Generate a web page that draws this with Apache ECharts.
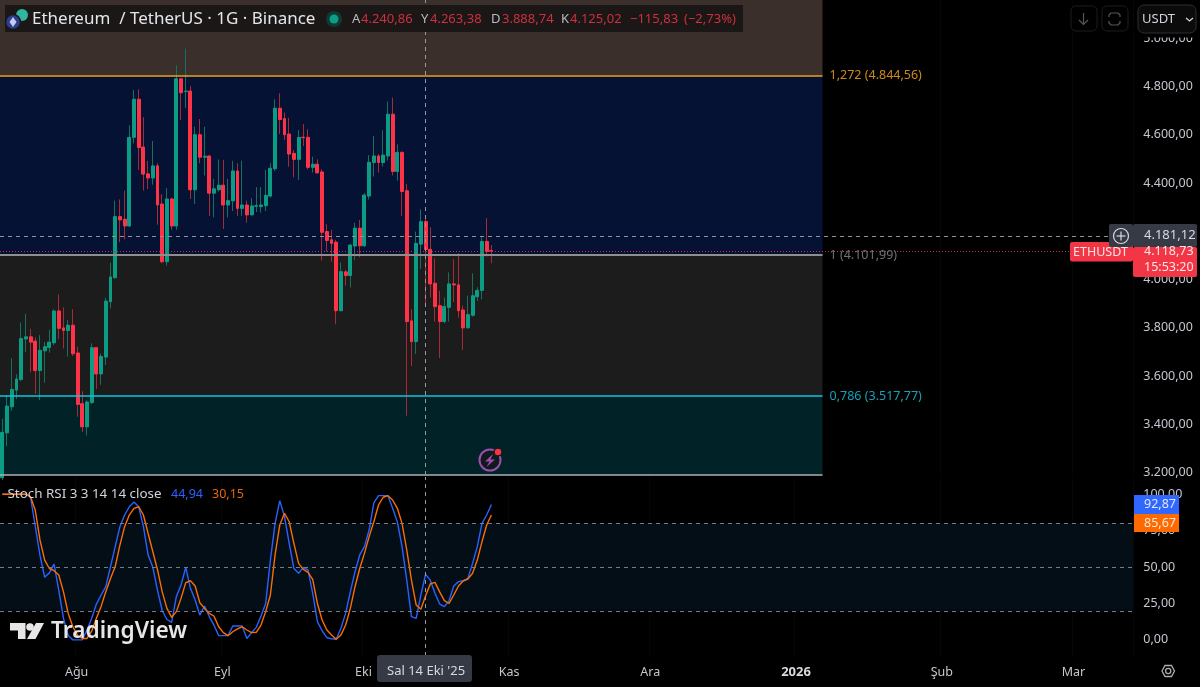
<!DOCTYPE html>
<html><head><meta charset="utf-8">
<style>html,body{margin:0;padding:0;background:#000}#c{width:1200px;height:687px}</style>
<script src="https://cdn.jsdelivr.net/npm/echarts@6/dist/echarts.min.js"></script>
</head><body><div id="c"></div>
<script>
const FONT = '"Noto Sans",sans-serif';
const startDate = '2025-07-16';
const categoryCount = 241;
const monthTicks = {'2025-08-01':'Ağu','2025-09-01':'Eyl','2025-10-01':'Eki','2025-11-01':'Kas','2025-12-01':'Ara','2026-01-01':'2026','2026-02-01':'Şub','2026-03-01':'Mar'};
const opens = [3179,3365,3473,3542,3586,3754,3763,3745,3623,3705,3719,3738,3870,3800,3789,3811,3696,3486,3390,3491,3718,3609,3679,3908,4008,
4261,4250,4222,4589,4747,4549,4438,4421,4471,4313,4074,4334,4222,4832,4779,4781,4372,4600,4507,4512,4358,4372,4391,4309,4326,4450,4295,4309,4268,4304,
4302,4306,4346,4459,4710,4667,4603,4523,4498,4590,4589,4465,4478,4446,4199,4165,4155,3871,4032,4017,4139,4213,4140,4346,4485,4512,4485,4512,4685,4448,4527,4368,3829,3743,4147,
4240.86,4125,3985,3892,3826,3885,3982,3978,3874,3800,3852,3929,3955,4158,4120];
const closes = [3367,3476,3545,3588,3756,3763,3741,3623,3707,3722,3741,3870,3798,3789,3811,3693,3483,3390,3493,3718,3609,3682,3911,4011,4261,
4247,4222,4589,4747,4547,4437,4421,4471,4309,4074,4334,4222,4832,4774,4781,4372,4600,4507,4511,4358,4376,4391,4309,4327,4450,4295,4309,4268,4305,4306,
4309,4349,4461,4710,4663,4600,4520,4498,4589,4588,4465,4478,4442,4196,4162,4150,3871,4033,4017,4143,4213,4140,4350,4486,4512,4485,4516,4685,4448,4527,4365,3826,3743,4150,4240,
4125.02,3982,3888,3826,3888,3982,3978,3871,3800,3855,3933,3955,4158,4116,4118.73];
const lows = [3170,3310,3457,3505,3579,3701,3616,3527,3501,3572,3697,3729,3753,3715,3681,3683,3432,3369,3354,3485,3546,3564,3646,3881,4003,
4155,4167,4220,4564,4454,4369,4375,4393,4227,4068,4058,4206,4206,4661,4711,4334,4313,4482,4431,4264,4258,4365,4210,4258,4284,4264,4264,4236,4266,4280,
4277,4284,4339,4450,4603,4578,4468,4424,4413,4553,4457,4443,4440,4079,4116,4074,3815,3868,3975,3967,4081,4092,4136,4332,4427,4443,4468,4493,4431,4410,4264,3436,3642,3692,4044,
3888.74,3926,3826,3675,3819,3826,3907,3842,3708,3798,3847,3911,3918,4095,4068];
const highs = [3423,3522,3674,3608,3822,3858,3796,3761,3770,3742,3792,3877,3939,3885,3833,3877,3722,3538,3500,3736,3720,3694,3925,4070,4327,
4332,4368,4640,4785,4788,4673,4492,4574,4482,4354,4379,4339,4888,4832,4956.78,4802,4633,4665,4633,4515,4417,4498,4496,4417,4492,4482,4492,4327,4337,4383,
4383,4454,4482,4747,4772,4692,4670,4537,4619,4644,4623,4509,4498,4457,4229,4206,4165,4070,4040,4148,4236,4247,4358,4516,4595,4520,4619,4738,4754,4560,4531,4397,3877,4199,4291,
4263.38,4217,4088,3953,3926,4030,4085,4109,3892,3933,4026,3969,4178,4254,4143];
const stochK = [100,100,100,100,100,100,97.9,78,58,43,46,52,34,14.8,3,0,0,0,6.8,14.8,24.6,30.8,36.5,50.3,64,77.7,85.7,91.4,94.7,91.4,77.7,58.2,49.8,34,20,14,12,29.7,37.7,49.8,35.4,27.4,17,23.3,16,10.2,2.9,2.9,2.9,9.5,9.5,9.5,1,5,8.6,16.4,
25,54.8,80,95.6,84.6,66.3,49,45.7,49.8,48,32,12.5,6.3,1.5,0.8,0.4,8,18.2,33,46.8,58.3,64,75.4,94,99,99,99,90.3,81,64,41,16,14.8,30.8,44.94,41,32,24.6,22.8,27,37,40,40.6,42.2,52.5,64,80,85.7,92.87];
const stochD = [100,100,100,100,100,100,98.3,89,68.6,54.8,49,47.5,44.5,33,18.2,9,3,1,1,6,14.8,23,33,42.2,50.3,65,77.7,85.7,90.3,91.4,85.7,73,60.5,48,33,21.6,15.5,19.4,28.5,39.3,40.6,37,25.5,21.6,18.2,16.4,9,5,2.9,5.6,7.5,9,6.8,5,5.2,10.2,
19.4,30.8,58.3,78.9,86.9,81.1,66.3,52.5,48.4,46.4,41.6,25,13.7,6.8,3.3,0.4,3.3,10.2,21.6,36.5,49,59.4,70.9,81.1,92.6,97.9,99,96,90.3,80,61.7,41,24,21,30.15,38.4,39.5,33,27,25,30.8,37,40.4,41.8,45.7,54.8,67.4,78.9,85.67];
const priceTicks = [3200,3400,3600,3800,4000,4200,4400,4600,4800,5000];
const stochTicks = [0,25,50,75,100];
const stochLevels = [80,50,20];
const fibLevels = [4844.56,4101.99,3517.77];
const fibNames = ['1,272','1','0,786'];
const fibColors = ['#f5a020','#8e8e8e','#16c2dc'];
const fibLabelColors = ['#d08a1c','#6f7178','#17a0b8'];
const fibBottom = 3191.5;
const lastPrice = 4118.73, crossPrice = 4181.12, crossIndex = 90;
const lastK = 92.87, lastD = 85.67;
const legendK = 44.94, legendD = 30.15;

const fmt = v => {const [a,b]=Number(v).toFixed(2).split('.');return a.replace(/\B(?=(\d{3})+$)/g,'.')+','+b;};
const categories = [];
for(let i=0;i<categoryCount;i++){categories.push(new Date(Date.parse(startDate+'T00:00:00Z')+i*864e5).toISOString().slice(0,10));}
const ohlc = opens.map((o,i)=>[o,closes[i],lows[i],highs[i]]);
const bodies = opens.map((o,i)=>[o,closes[i],Math.min(o,closes[i]),Math.max(o,closes[i])]);
const yMin=3190.5,yMax=5158.2,sMin=-11.05,sMax=111.8,fibStart=-0.5,fibEnd=174.42;
const isMonth=(i,v)=>v in monthTicks;

const txt=(x,y,text,fill,size,extra)=>({type:'text',z:100,x,y,style:Object.assign({text,fill,font:`${size||13}px ${FONT}`,textVerticalAlign:'middle',textBaseline:'middle'},extra||{})});
const rect=(x,y,w,h,fill,r,stroke)=>({type:'rect',z:99,shape:{x,y,width:w,height:h,r:r||0},style:{fill,stroke:stroke||null,lineWidth:stroke?1:0}});
const circ=(cx,cy,r,fill,stroke,lw)=>({type:'circle',z:100,shape:{cx,cy,r},style:{fill:fill||'transparent',stroke:stroke||null,lineWidth:lw||1}});
const line=(x1,y1,x2,y2,stroke,lw)=>({type:'line',z:100,shape:{x1,y1,x2,y2},style:{stroke,lineWidth:lw||1}});
const poly=(points,fill,stroke,lw)=>({type:'polygon',z:100,shape:{points},style:{fill:fill||'transparent',stroke:stroke||null,lineWidth:lw||1}});
const pline=(points,stroke,lw)=>({type:'polyline',z:100,shape:{points},style:{stroke,lineWidth:lw||1,fill:'transparent'}});

const red='#cf2f3e', lab='#b8bbc4', tagDark='#363a45';
const graphics=[
 rect(5,5,738,27,'#1a1716'),
 circ(22,15,6,'#2fb5a0'), circ(13,22,7.5,'#2a3f8f','#1a1716',1.5),
 poly([[13,17],[16.5,22],[13,27],[9.5,22]],'#c4cdf0'),
 txt(32,19,'Ethereum  / TetherUS · 1G · Binance','#e4e6ea',17),
 circ(334,19,8,'#0f3a33'), circ(334,19,4.5,'#0a9f86'),
 txt(352,19,'A',lab,13),txt(361,19,fmt(opens[crossIndex]),red,13),
 txt(421,19,'Y',lab,13),txt(430,19,fmt(highs[crossIndex]),red,13),
 txt(491,19,'D',lab,13),txt(502,19,fmt(lows[crossIndex]),red,13),
 txt(561,19,'K',lab,13),txt(570,19,fmt(closes[crossIndex]),red,13),
 txt(630,19,'−115,83',red,13),txt(684,19,'(−2,73%)',red,13),
 // top right buttons
 rect(1135,0,65,37.5,'#000'),
 rect(1071,6,26,25,'#000',5,'#1c1c1f'), rect(1102,6,26,25,'#000',5,'#1c1c1f'), rect(1138,5,58,28,'#0b0b0c',6,'#2e2e33'),
 line(1083.5,13,1083.5,24,'#55575e',1.2), pline([[1079,20],[1083.5,24.5],[1088,20]],'#55575e',1.2),
 pline([[1109,17],[1109,15],[1111,13],[1118,13],[1120,15],[1120,17]],'#55575e',1.2),
 pline([[1109,21],[1109,23],[1111,25],[1118,25],[1120,23],[1120,21]],'#55575e',1.2),
 txt(1142,19.5,'USDT','#d1d4dc',13),
 pline([[1186,18],[1189.5,21],[1193,18]],'#d1d4dc',1.3),
 // last price + crosshair tags
 rect(1070,242,63,19.5,'#f23645',2),
 txt(1073,252.5,'ETHUSDT','#fbe4e6',12.5),
 rect(1133,247,64,30,'#f23645',2),
 txt(1144,251.5,fmt(lastPrice),'#fde7e9',12.5), txt(1144,267,'15:53:20','#fde7e9',12.5),
 rect(1109,224,24,23,tagDark,2), rect(1133,224,64,23,tagDark,2),
 circ(1121,236,7.5,null,'#d8dae0',1.2), line(1116.5,236,1125.5,236,'#d8dae0',1.2), line(1121,231.5,1121,240.5,'#d8dae0',1.2),
 txt(1144,235.5,fmt(crossPrice),'#d8dae0',13),
 // stoch tags
 rect(1134,495,45,19,'#2f67ff'), rect(1134,514,45,18,'#ff6a00'),
 txt(1144,504.5,fmt(lastK),'#dfe7ff',12.5), txt(1144,523,fmt(lastD),'#ffe8d6',12.5),
 // stoch legend
 txt(7.5,494,'Stoch RSI 3 3 14 14 close','#d1d4dc',13.4),
 txt(171,494,fmt(legendK),'#2962ff',12.5), txt(212,494,fmt(legendD),'#e8650c',12.5),
 // TradingView mark
 poly([[10,623],[25.5,623],[25.5,639],[18,639],[18,630.5],[10,630.5]],'#e6e6e6'),
 circ(30,627,3.8,'#e6e6e6'),
 poly([[36,623],[44,623],[35.5,639],[27,639]],'#e6e6e6'),
 txt(51,632,'TradingView','#e6e6e6',24,{font:`600 22.7px ${FONT}`}),
 // lightning
 circ(490,460,10.5,'#101a1c','#9a4fae',2),
 poly([[493,454],[485,461.5],[489.5,461.5],[486.5,467],[495,459.5],[490.5,459.5]],'#9a4fae'),
 circ(498,452,4,'#f23645','#101a1c',1.5),
 // crosshair date tag
 rect(377,655,95,27,tagDark,3),
 txt(387,671,"Sal 14 Eki '25",'#d8dae0',13),
 // settings hexagon
 poly([[1162,671],[1165,665.5],[1171.5,665.5],[1174.5,671],[1171.5,676.5],[1165,676.5]],null,'#a9acb5',1.3),
 circ(1168.2,671,2.6,null,'#a9acb5',1.3),
];

const chart=echarts.init(document.getElementById('c'),null,{renderer:'canvas'});
chart.setOption({
 animation:false,backgroundColor:'#000',
 textStyle:{fontFamily:FONT},
 grid:[
  {left:-1.855,top:0,width:1135.11,height:475},
  {left:-1.855,top:477,width:1135.11,height:179}
 ],
 xAxis:[
  {type:'category',gridIndex:0,data:categories,boundaryGap:true,axisLine:{show:false},axisTick:{show:false},axisLabel:{show:false},
   splitLine:{show:true,interval:isMonth,lineStyle:{color:'rgba(255,255,255,0.025)'}}},
  {type:'category',gridIndex:1,data:categories,boundaryGap:true,axisLine:{show:false},axisTick:{show:false},
   splitLine:{show:true,interval:isMonth,lineStyle:{color:'rgba(255,255,255,0.025)'}},
   axisLabel:{show:true,interval:isMonth,margin:8,padding:[2,2,0,0],color:'#c4c7cf',fontSize:12.5,fontFamily:FONT,hideOverlap:false,
    formatter:v=>monthTicks[v]==='2026'?'{b|2026}':(monthTicks[v]||''),rich:{b:{fontWeight:'bold',color:'#d8dae0',fontSize:13,fontFamily:FONT}}}},
  {type:'value',gridIndex:0,show:false,min:-0.5,max:categoryCount-0.5,splitLine:{show:false}}
 ],
 yAxis:[
  {type:'value',gridIndex:0,position:'right',min:yMin,max:yMax,axisLine:{show:false},axisTick:{show:false},splitLine:{show:false},
   axisLabel:{customValues:priceTicks,color:'#c4c7cf',fontSize:12.5,fontFamily:FONT,margin:10,padding:[0,0,2,0],formatter:fmt}},
  {type:'value',gridIndex:1,position:'right',min:sMin,max:sMax,axisLine:{show:false},axisTick:{show:false},splitLine:{show:false},
   axisLabel:{customValues:stochTicks,color:'#c4c7cf',fontSize:12.5,fontFamily:FONT,margin:10,padding:[0,0,3,0],formatter:fmt}}
 ],
 series:[
  {name:'fib',type:'line',xAxisIndex:2,yAxisIndex:0,data:[],silent:true,
   markArea:{silent:true,itemStyle:{opacity:1},data:[
    [{coord:[fibStart,yMax],itemStyle:{color:'#3a2f2b'}},{coord:[fibEnd,fibLevels[0]]}],
    [{coord:[fibStart,fibLevels[0]],itemStyle:{color:'#051234'}},{coord:[fibEnd,fibLevels[1]]}],
    [{coord:[fibStart,fibLevels[1]],itemStyle:{color:'#1c1c1c'}},{coord:[fibEnd,fibLevels[2]]}],
    [{coord:[fibStart,fibLevels[2]],itemStyle:{color:'#012327'}},{coord:[fibEnd,fibBottom]}]
   ]},
   markLine:{silent:true,symbol:'none',animation:false,data:[
    ...fibLevels.map((v,i)=>[
     {coord:[fibStart,v],lineStyle:{color:fibColors[i],width:i===1?2:1.6,type:'solid'},
      label:{show:true,position:'end',distance:7,formatter:`${fibNames[i]} (${fmt(v)})`,color:fibLabelColors[i],fontSize:12.5,fontFamily:FONT}},
     {coord:[fibEnd,v]}]),
    [{coord:[fibStart,fibBottom],lineStyle:{color:'#aeb2b8',width:1.5,type:'solid'},label:{show:false}},{coord:[fibEnd,fibBottom]}],
    {yAxis:crossPrice,lineStyle:{color:'#8f929b',width:1,type:[4,4]},label:{show:false}},
    {yAxis:lastPrice,lineStyle:{color:'#d0304a',width:1,type:[1,2]},label:{show:false}},
    {xAxis:crossIndex,lineStyle:{color:'#9598a1',width:1,type:[4,4]},label:{show:false}}
   ]}
  },
  {name:'wicks',type:'candlestick',xAxisIndex:0,yAxisIndex:0,data:ohlc,barWidth:1,clip:true,silent:true,
   itemStyle:{color:'#14705f',color0:'#a82a38',borderColor:'#14705f',borderColor0:'#a82a38',borderWidth:1}},
  {name:'bodies',type:'candlestick',xAxisIndex:0,yAxisIndex:0,data:bodies,barWidth:3.4,clip:true,silent:true,
   itemStyle:{color:'#0c9c84',color0:'#ff3348',borderColor:'#0c9c84',borderColor0:'#ff3348',borderWidth:1}},
  {name:'K',type:'line',xAxisIndex:1,yAxisIndex:1,data:stochK,showSymbol:false,silent:true,lineStyle:{color:'#2962ff',width:1.4},z:3,
   markArea:{silent:true,itemStyle:{color:'#040e16',opacity:1},data:[[{yAxis:stochLevels[0]},{yAxis:stochLevels[2]}]]},
   markLine:{silent:true,symbol:'none',animation:false,data:[
    ...stochLevels.map(v=>({yAxis:v,lineStyle:{color:'#787b86',width:1,type:[4,4]},label:{show:false}})),
    {xAxis:categories[crossIndex],lineStyle:{color:'#9598a1',width:1,type:[4,4]},label:{show:false}}
   ]}},
  {name:'D',type:'line',xAxisIndex:1,yAxisIndex:1,data:stochD,showSymbol:false,silent:true,lineStyle:{color:'#ff6d00',width:1.4},z:4}
 ],
 graphic:{elements:graphics}
});
</script></body></html>
